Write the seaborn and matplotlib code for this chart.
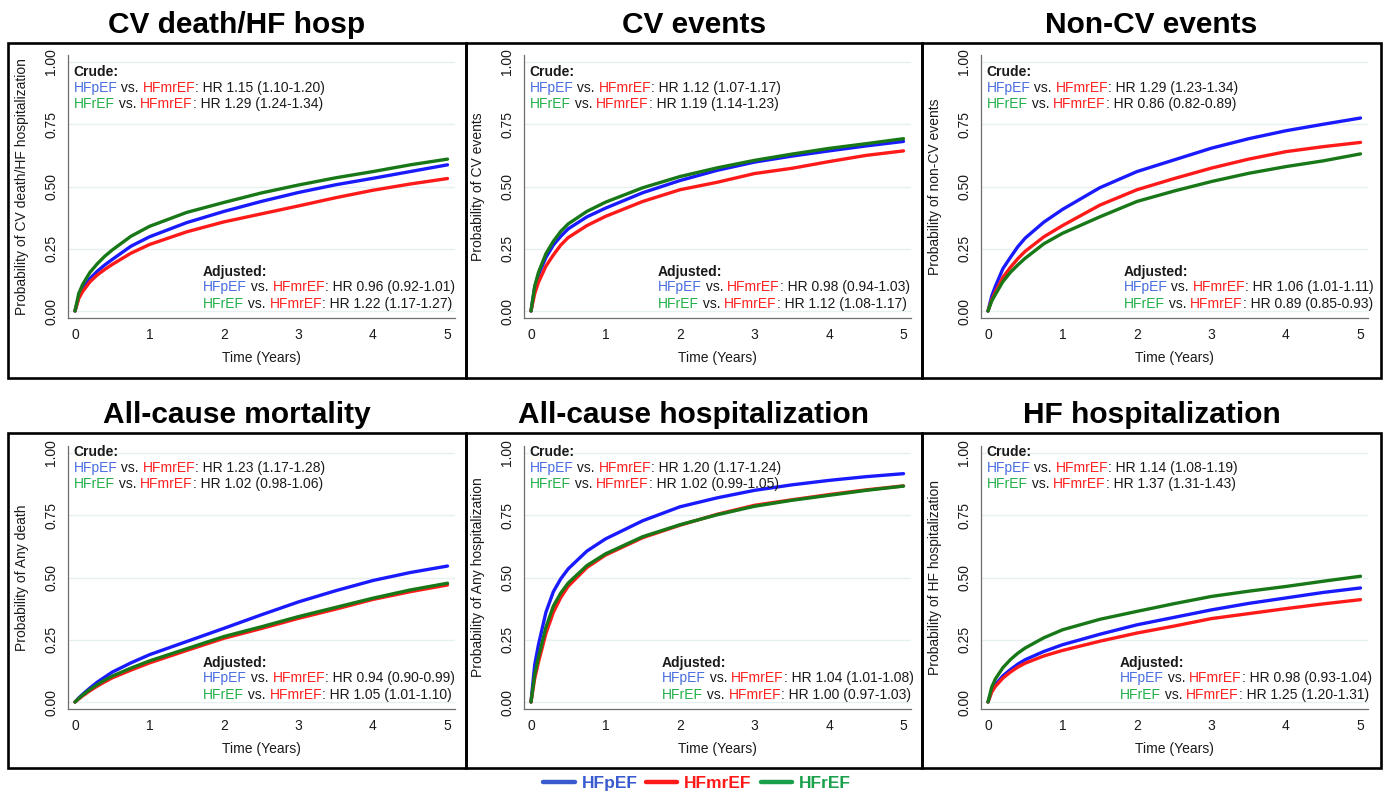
import numpy as np
import pandas as pd
import matplotlib
matplotlib.use("Agg")
import matplotlib.pyplot as plt
from matplotlib.patches import Rectangle
from matplotlib.lines import Line2D
import seaborn as sns

# ---------------- data ----------------
time_years = [0, 0.05, 0.1, 0.2, 0.3, 0.4, 0.5, 0.75, 1, 1.5, 2, 2.5, 3, 3.5, 4, 4.5, 5]
groups = ["HFpEF", "HFmrEF", "HFrEF"]

titles = ["CV death/HF hosp", "CV events", "Non-CV events",
          "All-cause mortality", "All-cause hospitalization", "HF hospitalization"]
ylabels = ["Probability of CV death/HF hospitalization", "Probability of CV events",
           "Probability of non-CV events", "Probability of Any death",
           "Probability of Any hospitalization", "Probability of HF hospitalization"]

cvdhf_hfpef = [0, 0.055, 0.085, 0.13, 0.16, 0.185, 0.207, 0.26, 0.298, 0.355, 0.40, 0.44, 0.476, 0.507, 0.533, 0.56, 0.587]
cvdhf_hfmref = [0, 0.05, 0.077, 0.117, 0.145, 0.167, 0.187, 0.232, 0.267, 0.318, 0.358, 0.39, 0.422, 0.455, 0.485, 0.51, 0.532]
cvdhf_hfref = [0, 0.07, 0.105, 0.155, 0.19, 0.22, 0.245, 0.30, 0.34, 0.396, 0.436, 0.474, 0.506, 0.535, 0.56, 0.587, 0.61]

cv_hfpef = [0, 0.095, 0.145, 0.215, 0.265, 0.30, 0.33, 0.378, 0.413, 0.475, 0.524, 0.565, 0.598, 0.622, 0.643, 0.663, 0.681]
cv_hfmref = [0, 0.07, 0.115, 0.18, 0.225, 0.265, 0.295, 0.343, 0.38, 0.44, 0.487, 0.517, 0.552, 0.573, 0.60, 0.625, 0.643]
cv_hfref = [0, 0.10, 0.155, 0.23, 0.28, 0.32, 0.35, 0.40, 0.437, 0.495, 0.54, 0.575, 0.605, 0.63, 0.653, 0.672, 0.692]

noncv_hfpef = [0, 0.06, 0.10, 0.17, 0.215, 0.258, 0.293, 0.357, 0.408, 0.495, 0.56, 0.607, 0.654, 0.692, 0.724, 0.75, 0.775]
noncv_hfmref = [0, 0.045, 0.077, 0.135, 0.175, 0.21, 0.24, 0.298, 0.343, 0.425, 0.487, 0.532, 0.574, 0.61, 0.64, 0.66, 0.677]
noncv_hfref = [0, 0.04, 0.067, 0.118, 0.155, 0.185, 0.212, 0.27, 0.312, 0.378, 0.44, 0.482, 0.52, 0.553, 0.58, 0.603, 0.631]

death_hfpef = [0, 0.016, 0.03, 0.056, 0.08, 0.10, 0.12, 0.157, 0.19, 0.243, 0.296, 0.35, 0.402, 0.447, 0.488, 0.52, 0.546]
death_hfmref = [0, 0.012, 0.024, 0.045, 0.064, 0.081, 0.097, 0.128, 0.157, 0.207, 0.256, 0.295, 0.336, 0.373, 0.412, 0.443, 0.47]
death_hfref = [0, 0.014, 0.027, 0.05, 0.07, 0.088, 0.104, 0.136, 0.165, 0.214, 0.263, 0.302, 0.343, 0.38, 0.417, 0.45, 0.477]

hosp_hfpef = [0, 0.15, 0.23, 0.36, 0.443, 0.495, 0.535, 0.606, 0.655, 0.728, 0.784, 0.82, 0.85, 0.872, 0.89, 0.905, 0.917]
hosp_hfmref = [0, 0.095, 0.16, 0.275, 0.36, 0.42, 0.465, 0.54, 0.59, 0.66, 0.71, 0.754, 0.79, 0.812, 0.833, 0.852, 0.868]
hosp_hfref = [0, 0.11, 0.18, 0.30, 0.385, 0.438, 0.478, 0.548, 0.595, 0.664, 0.712, 0.752, 0.786, 0.81, 0.83, 0.85, 0.867]

hfh_hfpef = [0, 0.045, 0.07, 0.105, 0.13, 0.152, 0.17, 0.203, 0.23, 0.272, 0.31, 0.34, 0.37, 0.396, 0.418, 0.44, 0.458]
hfh_hfmref = [0, 0.04, 0.063, 0.096, 0.12, 0.14, 0.156, 0.185, 0.207, 0.244, 0.277, 0.305, 0.335, 0.355, 0.375, 0.394, 0.411]
hfh_hfref = [0, 0.06, 0.093, 0.138, 0.17, 0.196, 0.217, 0.258, 0.29, 0.332, 0.364, 0.395, 0.424, 0.445, 0.464, 0.485, 0.505]

panel_series = [
    (cvdhf_hfpef, cvdhf_hfmref, cvdhf_hfref),
    (cv_hfpef, cv_hfmref, cv_hfref),
    (noncv_hfpef, noncv_hfmref, noncv_hfref),
    (death_hfpef, death_hfmref, death_hfref),
    (hosp_hfpef, hosp_hfmref, hosp_hfref),
    (hfh_hfpef, hfh_hfmref, hfh_hfref),
]

crude_pef = ["HR 1.15 (1.10-1.20)", "HR 1.12 (1.07-1.17)", "HR 1.29 (1.23-1.34)",
             "HR 1.23 (1.17-1.28)", "HR 1.20 (1.17-1.24)", "HR 1.14 (1.08-1.19)"]
crude_ref = ["HR 1.29 (1.24-1.34)", "HR 1.19 (1.14-1.23)", "HR 0.86 (0.82-0.89)",
             "HR 1.02 (0.98-1.06)", "HR 1.02 (0.99-1.05)", "HR 1.37 (1.31-1.43)"]
adj_pef = ["HR 0.96 (0.92-1.01)", "HR 0.98 (0.94-1.03)", "HR 1.06 (1.01-1.11)",
           "HR 0.94 (0.90-0.99)", "HR 1.04 (1.01-1.08)", "HR 0.98 (0.93-1.04)"]
adj_ref = ["HR 1.22 (1.17-1.27)", "HR 1.12 (1.08-1.17)", "HR 0.89 (0.85-0.93)",
           "HR 1.05 (1.01-1.10)", "HR 1.00 (0.97-1.03)", "HR 1.25 (1.20-1.31)"]

y_ticks = [0, 0.25, 0.5, 0.75, 1.0]
y_ticklabels = ["0.00", "0.25", "0.50", "0.75", "1.00"]
x_ticks = [0, 1, 2, 3, 4, 5]

# ---------------- style ----------------
sns.set_style("white")
plt.rcParams["font.family"] = ["Liberation Sans", "DejaVu Sans"]

line_colors = {"HFpEF": "#1a1aff", "HFmrEF": "#ff1a1a", "HFrEF": "#187818"}
text_colors = {"HFpEF": "#4a6ee0", "HFmrEF": "#ff2020", "HFrEF": "#22b04a"}
legend_colors = {"HFpEF": "#3a5bd0", "HFmrEF": "#ff1a1a", "HFrEF": "#1aa04a"}
txt_black = "#1a1a1a"
axis_gray = "#6e6e6e"
grid_col = "#e6f0f0"

W, H = 1387, 795
fig = plt.figure(figsize=(W / 100, H / 100), dpi=100)

# panel layout in pixels
col_x0 = [75, 531, 988]           # pixel of x=0
px_per_year = 74.5
row_y0 = [311, 702]               # pixel of y=0
px_per_unit = 249
box_x = [8, 466, 922, 1381]
box_y = [(43, 378), (433, 768)]
title_y = [25, 415]
crude_top = [0.96, 1.005]
adj_x = [1.72, 1.70, 1.82, 1.72, 1.76, 1.77]

xlim = (-0.094, 5.094)
ylim = (-0.028, 1.028)

fs_txt = 10
dy = 0.065


def rainbow(ax, x, y, parts, weight="normal"):
    t = ax.text(x, y, parts[0][0], color=parts[0][1], fontsize=fs_txt,
                va="center", ha="left", fontweight=weight)
    for s, c in parts[1:]:
        t = ax.annotate(s, xycoords=t, xy=(1, 0), va="bottom", ha="left",
                        color=c, fontsize=fs_txt, fontweight=weight)
    return t


for i in range(6):
    r, c = divmod(i, 3)
    x0px = col_x0[c]
    y0px = row_y0[r]
    left_px = x0px + xlim[0] * px_per_year
    right_px = x0px + xlim[1] * px_per_year
    bottom_px = y0px - ylim[0] * px_per_unit
    top_px = y0px - ylim[1] * px_per_unit
    ax = fig.add_axes([left_px / W, 1 - bottom_px / H,
                       (right_px - left_px) / W, (bottom_px - top_px) / H])
    ax.set_facecolor("none")

    pef, mref, ref = panel_series[i]
    df = pd.DataFrame({
        "time": time_years * 3,
        "prob": list(pef) + list(mref) + list(ref),
        "group": ["HFpEF"] * len(time_years) + ["HFmrEF"] * len(time_years) + ["HFrEF"] * len(time_years),
    })
    for yv in y_ticks:
        ax.axhline(yv, color=grid_col, lw=1.0, zorder=0)
    sns.lineplot(data=df, x="time", y="prob", hue="group", hue_order=groups,
                 palette=line_colors, linewidth=2.4, legend=False, ax=ax,
                 errorbar=None, sort=False, solid_joinstyle="round")

    ax.set_xlim(*xlim)
    ax.set_ylim(*ylim)
    ax.set_xticks(x_ticks)
    ax.set_xticklabels([str(v) for v in x_ticks])
    ax.set_yticks(y_ticks)
    ax.set_yticklabels(y_ticklabels, rotation=90, va="center")
    for sp in ["top", "right"]:
        ax.spines[sp].set_visible(False)
    for sp in ["left", "bottom"]:
        ax.spines[sp].set_color(axis_gray)
        ax.spines[sp].set_linewidth(0.9)
    ax.tick_params(axis="both", colors=axis_gray, length=4, width=0.9,
                   labelsize=10, labelcolor=txt_black, direction="out")
    ax.tick_params(axis="y", pad=3)
    ax.tick_params(axis="x", pad=3)
    ax.set_xlabel("Time (Years)", fontsize=10, color=txt_black)
    ax.set_ylabel(ylabels[i], fontsize=10, color=txt_black)
    ax.xaxis.set_label_coords(0.5, -0.125)
    ax.yaxis.set_label_coords(-0.1, 0.5)

    # annotations
    yc = crude_top[r]
    ax.text(-0.02, yc, "Crude:", fontsize=fs_txt, fontweight="bold", va="center",
            ha="left", color=txt_black)
    rainbow(ax, -0.02, yc - dy, [("HFpEF", text_colors["HFpEF"]), (" vs. ", txt_black),
                                 ("HFmrEF", text_colors["HFmrEF"]), (": " + crude_pef[i], txt_black)])
    rainbow(ax, -0.02, yc - 2 * dy, [("HFrEF", text_colors["HFrEF"]), (" vs. ", txt_black),
                                     ("HFmrEF", text_colors["HFmrEF"]), (": " + crude_ref[i], txt_black)])
    ya = 0.157
    xa = adj_x[i]
    ax.text(xa, ya, "Adjusted:", fontsize=fs_txt, fontweight="bold", va="center",
            ha="left", color=txt_black)
    rainbow(ax, xa, ya - 0.062, [("HFpEF", text_colors["HFpEF"]), (" vs. ", txt_black),
                                 ("HFmrEF", text_colors["HFmrEF"]), (": " + adj_pef[i], txt_black)])
    rainbow(ax, xa, ya - 0.128, [("HFrEF", text_colors["HFrEF"]), (" vs. ", txt_black),
                                 ("HFmrEF", text_colors["HFmrEF"]), (": " + adj_ref[i], txt_black)])

    # panel box and title
    bx0, bx1 = box_x[c], box_x[c + 1]
    by0, by1 = box_y[r]
    fig.patches.append(Rectangle((bx0 / W, 1 - by1 / H), (bx1 - bx0) / W, (by1 - by0) / H,
                                 transform=fig.transFigure, fill=False, edgecolor="black",
                                 linewidth=1.9, zorder=5))
    fig.text((bx0 + bx1) / 2 / W, 1 - title_y[r] / H, titles[i], fontsize=21.5,
             fontweight="bold", ha="center", va="center", color="black")

handles = [Line2D([0], [0], color=legend_colors[g], lw=3.2) for g in groups]
fig.legend(handles, groups, loc="center", bbox_to_anchor=(697 / W, 1 - 783 / H), ncol=3,
           frameon=False, prop={"weight": "bold", "size": 12.5},
           labelcolor=[legend_colors[g] for g in groups], handlelength=1.8,
           handletextpad=0.4, columnspacing=0.5, borderpad=0.1)

fig.savefig("out.png", dpi=100, facecolor="white")
